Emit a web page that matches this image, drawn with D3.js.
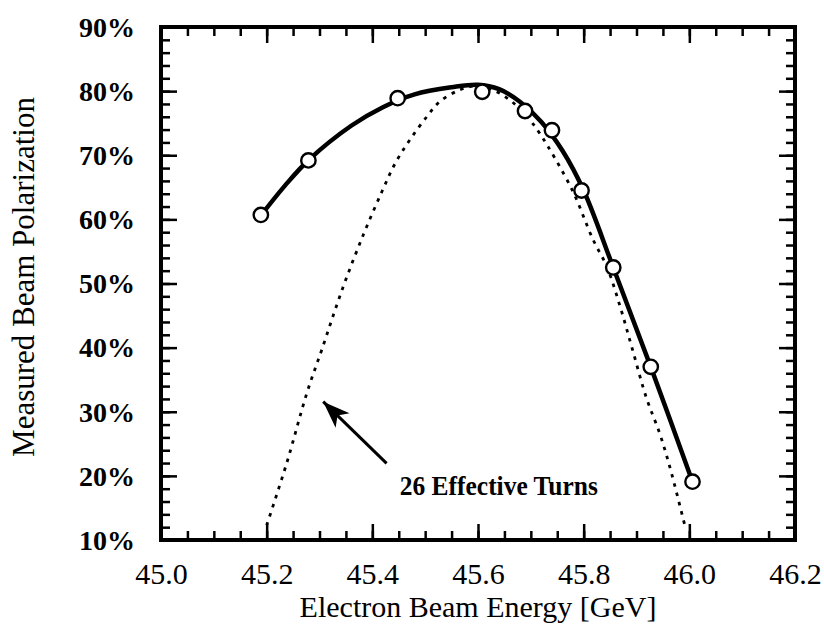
<!DOCTYPE html>
<html lang="en">
<head>
<meta charset="utf-8">
<title>Measured Beam Polarization</title>
<style>
  body { margin: 0; background: #fff; }
  svg { display: block; }
  text { font-family: "Liberation Serif", "Times New Roman", serif; fill: #000; }
</style>
</head>
<body>
<div id="chart"></div>

<script src="https://d3js.org/d3.v7.min.js"></script>
<script>
// measured points (open circles)
var energy = [45.189, 45.279, 45.448, 45.608, 45.689, 45.740, 45.796, 45.856, 45.927, 46.006];
var polarization = [60.7, 69.2, 78.9, 79.9, 76.9, 73.9, 64.5, 52.5, 37.0, 19.1];

// solid curve drawn through the measurements
var fitEnergy = [45.19, 45.235, 45.28, 45.36, 45.42, 45.48, 45.55, 45.60, 45.64, 45.68, 45.72, 45.76, 45.80, 45.856, 45.927, 46.006];
var fitPolarization = [60.7, 65.3, 69.3, 74.6, 77.5, 79.5, 80.6, 81.0, 80.3, 78.3, 75.2, 70.7, 64.5, 52.5, 37.0, 19.1];

// dotted curve: expected polarization for 26 effective turns
var turnsEnergy = [45.200, 45.238, 45.276, 45.304, 45.344, 45.383, 45.418, 45.443, 45.471, 45.503, 45.528, 45.566, 45.596,
                   45.630, 45.665, 45.698, 45.717, 45.777, 45.818, 45.844, 45.869, 45.891, 45.919, 45.944, 45.963, 45.992];
var turnsPolarization = [12.3, 22.0, 32.9, 39.6, 49.3, 57.6, 64.3, 68.7, 72.4, 76.0, 78.4, 80.2, 80.8,
                         80.1, 78.3, 75.5, 73.4, 64.8, 56.8, 52.6, 46.4, 40.1, 32.1, 26.6, 21.4, 12.1];

// axis ticks
var xTicks = [45.0, 45.2, 45.4, 45.6, 45.8, 46.0, 46.2];
var yTicks = [10, 20, 30, 40, 50, 60, 70, 80, 90];

// annotation (data coordinates)
var noteText = "26 Effective Turns";
var noteAt = [45.452, 17.0];
var arrowFrom = [45.427, 21.96];
var arrowTo = [45.307, 31.57];

var serif = '"Liberation Serif", "Times New Roman", serif';

var margin = {top: 27, right: 29, bottom: 88, left: 161},
    width = 824 - margin.left - margin.right,
    height = 628 - margin.top - margin.bottom;

var svg = d3.select("#chart")
    .append("svg")
    .attr("width", 824)
    .attr("height", 628);

var g = svg.append("g")
    .attr("transform", `translate(${margin.left},${margin.top})`);

var x = d3.scaleLinear().domain([45.0, 46.2]).range([0, width]);
var y = d3.scaleLinear().domain([10, 90]).range([height, 0]);

// minor ticks every 0.05 GeV and every 2%
var xMinor = d3.range(0, 25).map(i => +(45 + i * 0.05).toFixed(2));
var yMinor = d3.range(10, 91, 2);

var majorLen = 16, minorLen = 9;

function styleTicks(sel) {
   sel.attr("font-family", serif);
   sel.select(".domain").remove();
   sel.selectAll("line").attr("stroke", "#000").attr("stroke-width", 2.5);
}

// minor ticks on all four sides
g.append("g").attr("transform", `translate(0,${height})`)
   .call(d3.axisBottom(x).tickValues(xMinor).tickSize(-minorLen).tickFormat(""))
   .call(styleTicks);
g.append("g")
   .call(d3.axisTop(x).tickValues(xMinor).tickSize(-minorLen).tickFormat(""))
   .call(styleTicks);
g.append("g")
   .call(d3.axisLeft(y).tickValues(yMinor).tickSize(-minorLen).tickFormat(""))
   .call(styleTicks);
g.append("g").attr("transform", `translate(${width},0)`)
   .call(d3.axisRight(y).tickValues(yMinor).tickSize(-minorLen).tickFormat(""))
   .call(styleTicks);

// major ticks
g.append("g").attr("transform", `translate(0,${height})`)
   .call(d3.axisBottom(x).tickValues(xTicks).tickSize(-majorLen).tickFormat(d3.format(".1f")))
   .call(styleTicks)
   .selectAll("text")
   .attr("y", 44)
   .attr("dy", 0)
   .style("font-family", serif)
   .style("font-size", "30px");

g.append("g")
   .call(d3.axisTop(x).tickValues(xTicks).tickSize(-majorLen).tickFormat(""))
   .call(styleTicks);

g.append("g")
   .call(d3.axisLeft(y).tickValues(yTicks).tickSize(-majorLen).tickFormat(d => d + "%"))
   .call(styleTicks)
   .selectAll("text")
   .attr("x", -26)
   .attr("dy", "0.33em")
   .style("font-family", serif)
   .style("font-size", "28px")
   .style("font-weight", "bold");

g.append("g").attr("transform", `translate(${width},0)`)
   .call(d3.axisRight(y).tickValues(yTicks).tickSize(-majorLen).tickFormat(""))
   .call(styleTicks);

// frame
g.append("rect")
   .attr("width", width)
   .attr("height", height)
   .attr("fill", "none")
   .attr("stroke", "#000")
   .attr("stroke-width", 4);

// axis titles
svg.append("text")
   .attr("x", margin.left + width / 2)
   .attr("y", 617)
   .attr("text-anchor", "middle")
   .style("font-size", "30px")
   .text("Electron Beam Energy [GeV]");

svg.append("text")
   .attr("transform", "translate(34,277) rotate(-90)")
   .attr("text-anchor", "middle")
   .style("font-size", "31px")
   .text("Measured Beam Polarization");

// dotted 26-turn curve
var line = d3.line()
   .x(d => x(d[0]))
   .y(d => y(d[1]))
   .curve(d3.curveCatmullRom);

g.append("path")
   .datum(turnsEnergy.map((e, i) => [e, turnsPolarization[i]]))
   .attr("d", line)
   .attr("fill", "none")
   .attr("stroke", "#000")
   .attr("stroke-width", 2.8)
   .attr("stroke-dasharray", "3.5,6");

// solid curve
g.append("path")
   .datum(fitEnergy.map((e, i) => [e, fitPolarization[i]]))
   .attr("d", line)
   .attr("fill", "none")
   .attr("stroke", "#000")
   .attr("stroke-width", 4.5)
   .attr("stroke-linejoin", "round");

// data points
g.append("g")
   .selectAll("circle")
   .data(energy.map((e, i) => [e, polarization[i]]))
   .join("circle")
   .attr("cx", d => x(d[0]))
   .attr("cy", d => y(d[1]))
   .attr("r", 7.2)
   .attr("fill", "#fff")
   .attr("stroke", "#000")
   .attr("stroke-width", 2.4);

// annotation arrow
svg.append("defs").append("marker")
   .attr("id", "head")
   .attr("markerUnits", "userSpaceOnUse")
   .attr("viewBox", "-30 -12 32 24")
   .attr("markerWidth", 32)
   .attr("markerHeight", 24)
   .attr("refX", 0)
   .attr("refY", 0)
   .attr("orient", "auto")
   .append("path")
   .attr("d", "M0,0 L-27,-10 L-20,0 L-27,10 Z")
   .attr("fill", "#000");

g.append("line")
   .attr("x1", x(arrowFrom[0]))
   .attr("y1", y(arrowFrom[1]))
   .attr("x2", x(arrowTo[0]))
   .attr("y2", y(arrowTo[1]))
   .attr("stroke", "#000")
   .attr("stroke-width", 3)
   .attr("marker-end", "url(#head)");

g.append("text")
   .attr("x", x(noteAt[0]))
   .attr("y", y(noteAt[1]))
   .attr("textLength", 198)
   .attr("lengthAdjust", "spacingAndGlyphs")
   .style("font-size", "27px")
   .style("font-weight", "bold")
   .text(noteText);
</script>
</body>
</html>
